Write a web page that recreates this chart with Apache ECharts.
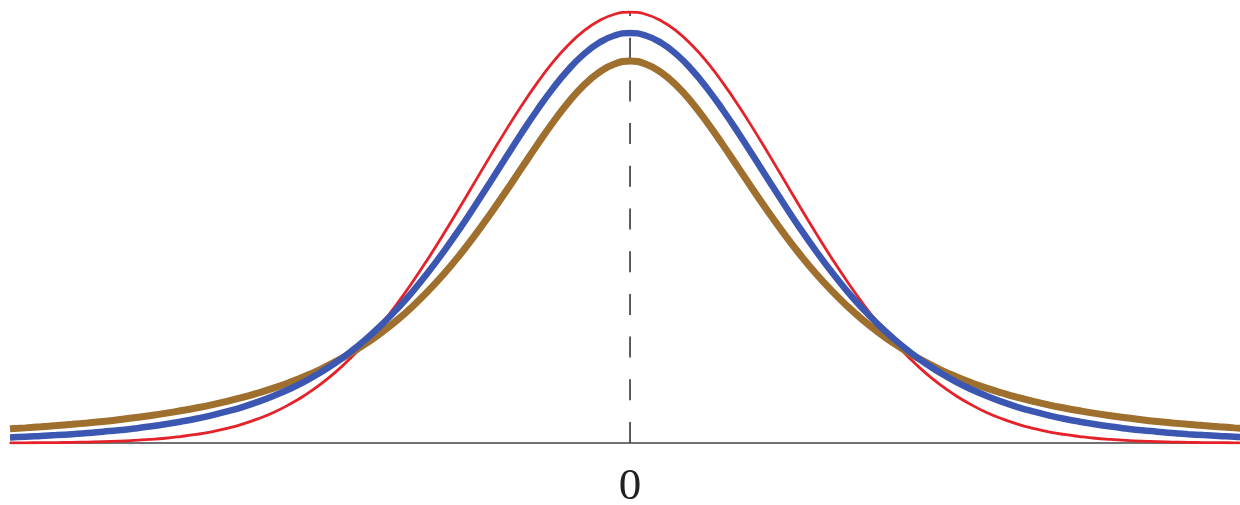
<!DOCTYPE html>
<html>
<head>
<meta charset="utf-8">
<script src="https://cdn.jsdelivr.net/npm/echarts@6/dist/echarts.min.js"></script>
<style>html,body{margin:0;padding:0;background:#fff;}#c{width:1240px;height:505px;}</style>
</head>
<body>
<div id="c"></div>
<script>
// x positions (half curve, mirrored about 0)
var xHalf = [0, 0.1, 0.2, 0.3, 0.4, 0.5, 0.6, 0.7, 0.8, 0.9, 1.0, 1.1, 1.2, 1.3, 1.4, 1.5, 1.6, 1.7, 1.8, 1.9, 2.0,
             2.1, 2.2, 2.3, 2.4, 2.5, 2.6, 2.7, 2.8, 2.9, 3.0, 3.1, 3.2, 3.3, 3.4, 3.5, 3.6, 3.7, 3.8, 3.9, 4.0];
// red (thin) curve heights
var redHalf = [0.3989, 0.3970, 0.3910, 0.3814, 0.3683, 0.3521, 0.3332, 0.3123, 0.2897, 0.2661, 0.2420, 0.2179, 0.1942, 0.1714, 0.1497, 0.1295, 0.1109, 0.0940, 0.0790, 0.0656, 0.0540,
               0.0440, 0.0355, 0.0283, 0.0224, 0.0175, 0.0136, 0.0104, 0.0079, 0.0060, 0.0044, 0.0033, 0.0024, 0.0017, 0.0012, 0.0009, 0.0006, 0.0004, 0.0003, 0.0002, 0.0001];
// blue curve heights
var blueHalf = [0.3796, 0.3773, 0.3706, 0.3598, 0.3454, 0.3279, 0.3081, 0.2868, 0.2645, 0.2419, 0.2197, 0.1981, 0.1777, 0.1585, 0.1407, 0.1245, 0.1098, 0.0966, 0.0848, 0.0743, 0.0651,
                0.0569, 0.0498, 0.0436, 0.0381, 0.0333, 0.0292, 0.0256, 0.0224, 0.0197, 0.0173, 0.0152, 0.0134, 0.0118, 0.0105, 0.0092, 0.0082, 0.0073, 0.0065, 0.0057, 0.0051];
// brown curve heights
var brownHalf = [0.3536, 0.3509, 0.3432, 0.3310, 0.3150, 0.2963, 0.2758, 0.2545, 0.2331, 0.2123, 0.1925, 0.1739, 0.1567, 0.1411, 0.1269, 0.1141, 0.1027, 0.0925, 0.0834, 0.0753, 0.0680,
                 0.0616, 0.0559, 0.0508, 0.0463, 0.0422, 0.0386, 0.0353, 0.0324, 0.0298, 0.0274, 0.0253, 0.0234, 0.0216, 0.0200, 0.0186, 0.0173, 0.0161, 0.0150, 0.0140, 0.0131];
// dashed centre line end points
var centreLine = [[0, 0], [0, 0.4]];
var tickLabels = ['0'];
var tickValues = [0];

function full(half) {
  var pts = [];
  for (var i = half.length - 1; i > 0; i--) pts.push([-xHalf[i], half[i]]);
  for (var j = 0; j < half.length; j++) pts.push([xHalf[j], half[j]]);
  return pts;
}

var chart = echarts.init(document.getElementById('c'), null, {renderer: 'canvas'});
chart.setOption({
  animation: false,
  backgroundColor: '#ffffff',
  grid: {left: 10, right: 0, top: 11, bottom: 62, containLabel: false, outerBoundsMode: 'none'},
  xAxis: {
    type: 'value', min: -4, max: 3.935,
    axisLine: {show: true, onZero: false, lineStyle: {color: '#444', width: 1.5}},
    axisTick: {show: false},
    splitLine: {show: false},
    axisLabel: {
      show: true, customValues: tickValues, margin: 22,
      fontFamily: 'Liberation Serif', fontSize: 45, color: '#222',
      formatter: function (v) { return tickLabels[tickValues.indexOf(v)] || ''; }
    }
  },
  yAxis: {type: 'value', min: 0, max: 0.4, show: false, splitLine: {show: false}},
  series: [
    {type: 'line', name: 'centre', data: centreLine, showSymbol: false, z: 1, silent: true,
      lineStyle: {color: '#333', width: 1.6, type: [21, 21.7]}},
    {type: 'line', name: 'red', data: full(redHalf), smooth: true, showSymbol: false, z: 2,
      lineStyle: {color: '#e52229', width: 2.8}},
    {type: 'line', name: 'brown', data: full(brownHalf), smooth: true, showSymbol: false, z: 3,
      lineStyle: {color: '#9e6f2d', width: 7}},
    {type: 'line', name: 'blue', data: full(blueHalf), smooth: true, showSymbol: false, z: 4,
      lineStyle: {color: '#3b57b2', width: 6.5}}
  ]
});
</script>
</body>
</html>
